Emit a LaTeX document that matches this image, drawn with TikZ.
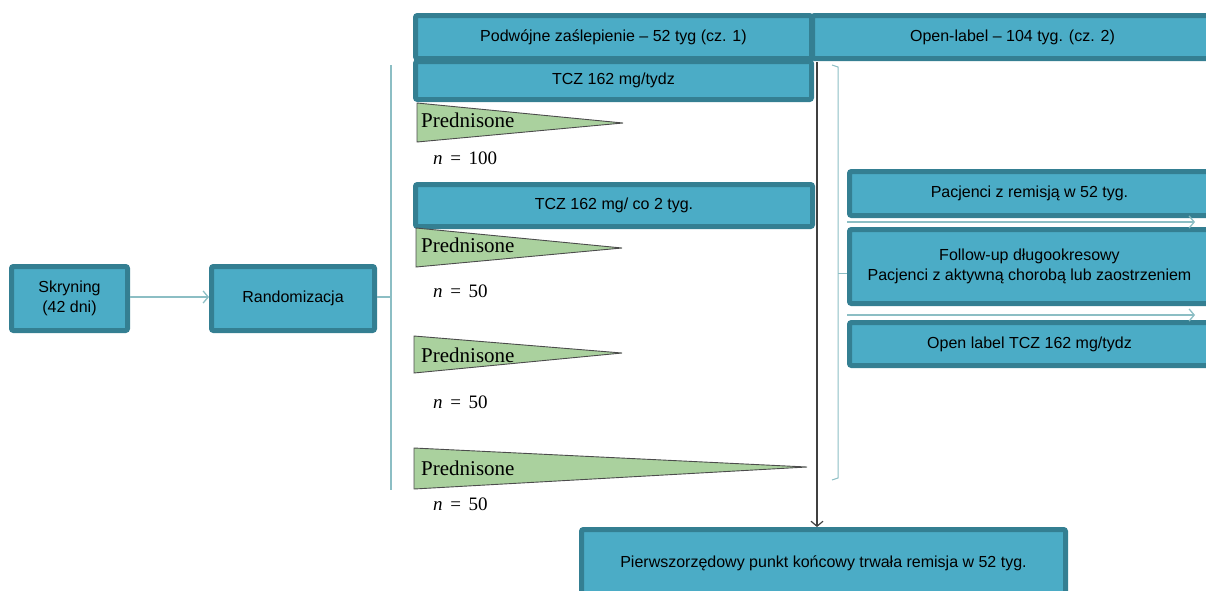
\documentclass[tikz,border=0pt]{standalone}
\usepackage{fontspec}
\setsansfont{Liberation Sans}
\newfontfamily\prednfont{Liberation Serif}
\usetikzlibrary{arrows.meta}
\definecolor{boxfill}{RGB}{75,172,198}
\definecolor{boxline}{RGB}{52,127,146}
\definecolor{linkcol}{RGB}{140,190,196}
\definecolor{predgreen}{RGB}{170,209,158}
\begin{document}
\begin{tikzpicture}[x=1pt,y=-1pt,
                    main box/.style={draw=boxline,fill=boxfill,line width=5pt,rounded corners=2pt,
                                     align=center,inner sep=0pt,font=\sffamily\fontsize{16}{19.5}\selectfont},
                    link/.style={draw=linkcol,line width=1.3pt},
                    barb/.style={-{Straight Barb[length=5pt,width=12pt]}},
                    wedge/.style={draw=black!70,fill=predgreen,line width=0.9pt},
                    pred text/.style={anchor=base west,inner sep=0pt,font=\prednfont\fontsize{21}{24}\selectfont},
                    n text/.style={anchor=base west,inner sep=0pt,font=\prednfont\fontsize{19}{22}\selectfont}]

        \clip (0,0) rectangle (1206,590);

        % Define boxes
        \node[main box,minimum width=116pt,minimum height=64pt] (skr) at (69.5,298.5) {Skryning\\(42 dni)};
        \node[main box,minimum width=163pt,minimum height=64pt] (rand) at (293,298.5) {Randomizacja};
        \node[main box,minimum width=396pt,minimum height=43pt] (dbl) at (613.5,37) {Podwójne zaślepienie – 52 tyg (cz. 1)};
        \node[main box,minimum width=400pt,minimum height=43pt] (open) at (1012.5,37) {Open-label – 104 tyg. (cz. 2)};
        \node[main box,minimum width=396pt,minimum height=38pt] (tcza) at (613.5,80.5) {TCZ 162 mg/tydz};
        \node[main box,minimum width=397pt,minimum height=42pt] (tczb) at (614,205.5) {TCZ 162 mg/ co 2 tyg.};
        \node[main box,minimum width=360pt,minimum height=44pt] (rem) at (1029.5,193.5) {Pacjenci z remisją w 52 tyg.};
        \node[main box,minimum width=360pt,minimum height=74pt] (fup) at (1029.5,266.5) {Follow-up długookresowy\\Pacjenci z aktywną chorobą lub zaostrzeniem};
        \node[main box,minimum width=360pt,minimum height=43pt] (oltcz) at (1029.5,344) {Open label TCZ 162 mg/tydz};
        \node[main box,minimum width=484pt,minimum height=68pt] (end) at (823.5,563.5) {Pierwszorzędowy punkt końcowy trwała remisja w 52 tyg.};

        % Prednisone wedges
        \draw[wedge] (417,103) -- (623,123) -- (417,142) -- cycle;
        \draw[wedge] (416,228) -- (622,248) -- (416,267) -- cycle;
        \draw[wedge] (414,336) -- (622,353) -- (414,373) -- cycle;
        \draw[wedge] (414,448) -- (807,467) -- (414,489) -- cycle;
        \node[pred text] (pa) at (421,127) {Prednisone};
        \node[pred text] (pb) at (421,252) {Prednisone};
        \node[pred text] (pc) at (421,362) {Prednisone};
        \node[pred text] (pd) at (421,475) {Prednisone};
        \node[n text] (na) at (433,164) {\textit{n}\hspace{0.4em}=\hspace{0.4em}100};
        \node[n text] (nb) at (433,297) {\textit{n}\hspace{0.4em}=\hspace{0.4em}50};
        \node[n text] (nc) at (433,408) {\textit{n}\hspace{0.4em}=\hspace{0.4em}50};
        \node[n text] (nd) at (433,510) {\textit{n}\hspace{0.4em}=\hspace{0.4em}50};

        % Connectors
        \coordinate (armtop) at (391,65);
        \coordinate (armbot) at (391,490);
        \coordinate (armmid) at (391,297);
        \draw[link,barb] (skr.east |- 0,297) -- (rand.west |- 0,297);
        \draw[link] (rand.east |- armmid) -- (armmid);
        \draw[link] (armtop) -- (armbot);

        \coordinate (brtop) at (838,67);
        \coordinate (brbot) at (838,478);
        \coordinate (brmid) at (838,273);
        \draw[link,line width=1pt] (832,65) -- (brtop) -- (brbot) -- (832,480);
        \draw[link,line width=1pt] (brmid) -- (fup.west |- brmid);

        \coordinate (remend) at (1195,222);
        \coordinate (fupend) at (1195,315);
        \draw[link,barb] (rem.west |- remend) -- (remend);
        \draw[link,barb] (fup.west |- fupend) -- (fupend);

        \coordinate (main top) at (817,62);
        \draw[black!75,line width=1.2pt,-{Straight Barb[length=5pt,width=12pt]}] (main top) -- (end.north -| main top);
\end{tikzpicture}
\end{document}
